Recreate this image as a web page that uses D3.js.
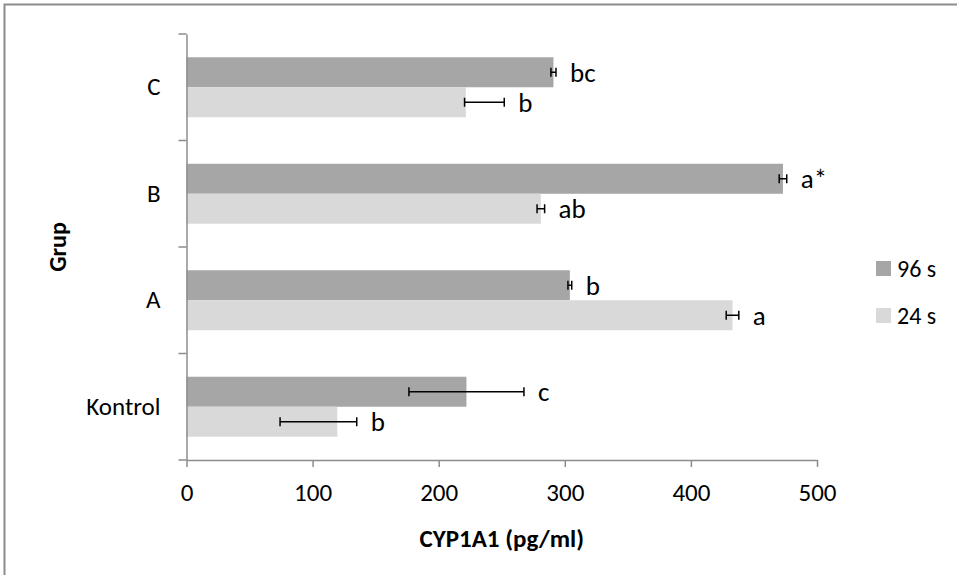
<!DOCTYPE html>
<html>
<head>
<meta charset="utf-8">
<script src="https://cdn.jsdelivr.net/npm/d3@7"></script>
<style>
  body { margin: 0; background: #fff; }
  svg { display: block; font-family: Carlito, Lato, "Open Sans", sans-serif; }
</style>
</head>
<body>
<div id="chart"></div>
<script>
// groups, listed top to bottom as drawn
var groups = ['C', 'B', 'A', 'Kontrol'];
var series = ['96 s', '24 s'];
var colors = ['#a6a6a6', '#d9d9d9'];

// CYP1A1 (pg/ml) per group, same order as groups
var v96 = [291, 473, 304, 222];
var v24 = [221.5, 281, 433, 119.6];

// error bars (minus / plus)
var e96minus = [2, 3, 1.5, 45.6];
var e96plus  = [2, 3, 1.5, 45.6];
var e24minus = [1, 3, 5, 45.4];
var e24plus  = [30.5, 3, 5, 15.4];

// significance letters
var l96 = ['bc', 'a*', 'b', 'c'];
var l24 = ['b', 'ab', 'a', 'b'];

var xTicks = [0, 100, 200, 300, 400, 500];

var width = 957, height = 575;
var margin = {top: 34, right: 140, bottom: 115, left: 186.5};
var w = 817 - margin.left, h = 460 - margin.top;
var fontSize = 25;

var svg = d3.select('#chart').append('svg')
  .attr('width', width)
  .attr('height', height);

// outer chart frame (runs off the canvas right and bottom)
svg.append('rect')
  .attr('x', 4.5).attr('y', 4.5)
  .attr('width', 1000).attr('height', 1000)
  .attr('fill', 'none')
  .attr('stroke', '#8c8c8c')
  .attr('stroke-width', 2);

var g = svg.append('g')
  .attr('transform', 'translate(' + margin.left + ',' + margin.top + ')');

var x = d3.scaleLinear().domain([0, 500]).range([0, w]);
var y0 = d3.scaleBand().domain(groups).range([0, h]).paddingInner(0).paddingOuter(0);
var y1 = d3.scaleBand().domain(series).range([0, y0.bandwidth()]).paddingInner(0).paddingOuter(0.775);

var rows = groups.map(function(d, i) {
  return {
    group: d,
    bars: [
      {s: series[0], v: v96[i], lo: e96minus[i], hi: e96plus[i], lab: l96[i]},
      {s: series[1], v: v24[i], lo: e24minus[i], hi: e24plus[i], lab: l24[i]}
    ]
  };
});

var row = g.selectAll('.row')
  .data(rows)
  .enter().append('g')
  .attr('class', 'row')
  .attr('transform', function(d) { return 'translate(0,' + y0(d.group) + ')'; });

var bar = row.selectAll('.bar')
  .data(function(d) { return d.bars; })
  .enter().append('g')
  .attr('class', 'bar');

bar.append('rect')
  .attr('x', x(0))
  .attr('y', function(d) { return y1(d.s); })
  .attr('width', function(d) { return x(d.v) - x(0); })
  .attr('height', y1.bandwidth())
  .attr('fill', function(d) { return colors[series.indexOf(d.s)]; });

// error bars
var cap = 4.5;
function mid(d) { return y1(d.s) + y1.bandwidth() / 2; }

bar.append('line')
  .attr('x1', function(d) { return x(d.v - d.lo); })
  .attr('x2', function(d) { return x(d.v + d.hi); })
  .attr('y1', mid).attr('y2', mid)
  .attr('stroke', '#000').attr('stroke-width', 1.5);

bar.append('line')
  .attr('x1', function(d) { return x(d.v - d.lo); })
  .attr('x2', function(d) { return x(d.v - d.lo); })
  .attr('y1', function(d) { return mid(d) - cap; })
  .attr('y2', function(d) { return mid(d) + cap; })
  .attr('stroke', '#000').attr('stroke-width', 1.5);

bar.append('line')
  .attr('x1', function(d) { return x(d.v + d.hi); })
  .attr('x2', function(d) { return x(d.v + d.hi); })
  .attr('y1', function(d) { return mid(d) - cap; })
  .attr('y2', function(d) { return mid(d) + cap; })
  .attr('stroke', '#000').attr('stroke-width', 1.5);

bar.append('text')
  .attr('x', function(d) { return x(d.v + d.hi) + 14; })
  .attr('y', mid)
  .attr('dy', '0.35em')
  .attr('font-size', 27)
  .attr('fill', '#000')
  .text(function(d) { return d.lab; });

// axes
var xAxis = g.append('g')
  .attr('transform', 'translate(0,' + h + ')')
  .call(d3.axisBottom(x).tickValues(xTicks).tickSize(7).tickPadding(14).tickSizeOuter(0));

var yAxis = g.append('g')
  .call(d3.axisLeft(y0).tickSize(0).tickPadding(26));

// Excel style: y ticks sit on the band boundaries
yAxis.selectAll('.bound')
  .data(d3.range(groups.length + 1))
  .enter().append('line')
  .attr('class', 'bound')
  .attr('x1', -8).attr('x2', 0)
  .attr('y1', function(i) { return i * y0.step(); })
  .attr('y2', function(i) { return i * y0.step(); });

[xAxis, yAxis].forEach(function(a) {
  a.selectAll('path, line').attr('stroke', '#8c8c8c').attr('stroke-width', 1.5);
  a.selectAll('text').attr('font-size', fontSize).attr('fill', '#000')
    .attr('font-family', 'Carlito, Lato, "Open Sans", sans-serif');
});
xAxis.selectAll('text').attr('dy', '0.35em').attr('y', 32);

// axis titles
svg.append('text')
  .attr('x', margin.left + w / 2)
  .attr('y', 538)
  .attr('dy', '0.35em')
  .attr('text-anchor', 'middle')
  .attr('font-size', 25)
  .attr('font-weight', 'bold')
  .text('CYP1A1 (pg/ml)');

svg.append('text')
  .attr('transform', 'translate(58,' + (margin.top + h / 2) + ') rotate(-90)')
  .attr('dy', '0.35em')
  .attr('text-anchor', 'middle')
  .attr('font-size', 24)
  .attr('font-weight', 'bold')
  .text('Grup');

// legend
var legend = svg.append('g')
  .attr('transform', 'translate(876,261)');

var item = legend.selectAll('.item')
  .data(series)
  .enter().append('g')
  .attr('class', 'item')
  .attr('transform', function(d, i) { return 'translate(0,' + (i * 47) + ')'; });

item.append('rect')
  .attr('width', 15).attr('height', 15)
  .attr('fill', function(d, i) { return colors[i]; });

item.append('text')
  .attr('x', 21).attr('y', 7.5)
  .attr('dy', '0.35em')
  .attr('font-size', 24)
  .text(function(d) { return d; });
</script>
</body>
</html>
